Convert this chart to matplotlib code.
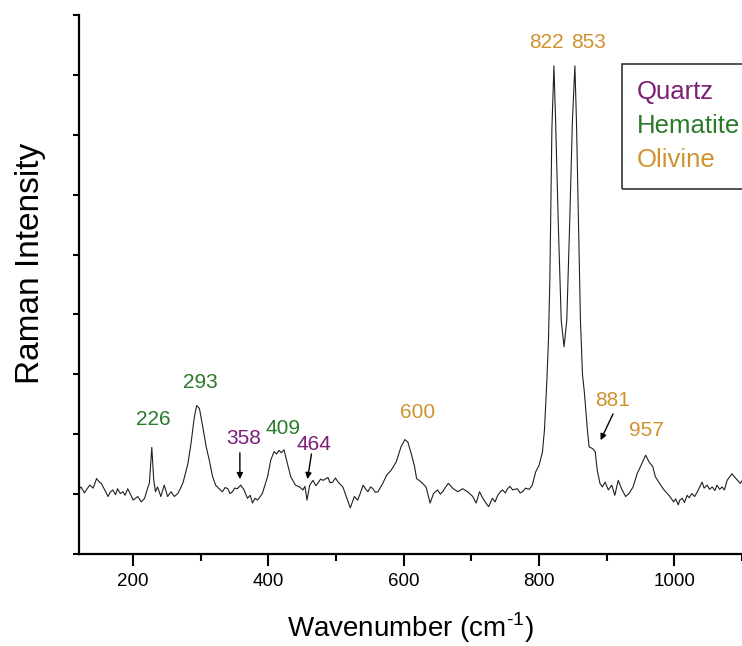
import matplotlib
matplotlib.use("Agg")
import matplotlib.pyplot as plt
from matplotlib.patches import Rectangle

# ---------------- data ----------------
wavenumber = [120, 123, 128, 132, 136, 141, 146, 150, 153, 158, 163, 166, 170, 174, 177,
              181, 185, 188, 192, 196,
              200, 207, 212, 217, 222, 224, 227.6, 230.5, 233, 236, 241, 246, 251,
              256, 261, 266, 271, 274, 281, 285.5, 290.5, 294, 298, 303, 308, 312.5,
              317.5, 322, 327, 332, 336, 340, 343, 347, 350, 354, 359, 364, 369, 373,
              376.5, 380, 384, 391,
              398.7, 403.5, 408.4, 412, 415.8, 419, 423, 426.7, 433, 440, 446, 451, 454,
              457, 461, 466, 470, 473, 477, 481, 488, 491, 495, 499, 503, 510, 515, 521,
              527, 532, 536, 540, 544, 547, 551, 554.5, 558,
              562, 569, 575, 581.5, 589, 596, 601.6, 606, 611, 616, 619, 626, 633,
              639, 644, 650, 654, 657.6, 662, 666, 673, 680, 687, 694.5, 702, 707, 712,
              717, 721, 725.5, 731, 735, 739, 743, 746, 750, 753.5, 757, 761, 768, 772,
              775.7, 780, 785.5, 790, 795, 800,
              805, 808, 811.6, 814, 816, 819, 822, 824.5, 828.3, 832.8, 837, 841,
              845.4, 849.3, 853, 855.3, 858.2, 861.2, 864.2, 867, 871.5, 874, 879,
              883, 886, 890, 893.6, 897.6, 902.5, 907.5, 912, 917, 922, 928, 933,
              939, 945, 952, 957.6, 962.5, 968, 972, 978, 984.7, 992, 999, 1002, 1005.8,
              1008, 1011.7, 1015, 1019, 1022, 1026, 1030, 1034, 1041, 1044, 1048.5, 1052,
              1056, 1060, 1063, 1067, 1070.6, 1074, 1078,
              1085, 1091, 1097.6, 1100]
intensity = [1.08, 1.12, 1.02, 1.09, 1.15, 1.10, 1.26, 1.20, 1.18, 1.07, 0.96, 1.03,
             1.07, 0.99, 1.09, 1.01, 1.04, 0.98, 1.09, 1.00,
             0.90, 0.96, 0.87, 0.93, 1.12, 1.18, 1.78, 1.23, 1.04, 1.12,
             0.96, 1.15, 0.96, 1.04, 0.96, 1.01, 1.12, 1.20, 1.51, 1.84, 2.29, 2.48,
             2.43, 2.12, 1.79, 1.57, 1.29, 1.15, 1.09, 1.04, 1.11, 1.09, 1.01, 1.04,
             1.10, 1.09, 1.15, 1.07, 0.93, 0.98, 0.85, 0.93, 0.90, 1.01,
             1.29, 1.57, 1.71, 1.67, 1.73, 1.69, 1.74, 1.57, 1.29,
             1.15, 1.12, 1.07, 1.13, 0.90, 1.15, 1.23, 1.14, 1.18, 1.25, 1.23, 1.28,
             1.19, 1.20, 1.27, 1.20, 1.12, 0.96, 0.77, 0.96, 0.90, 1.02, 1.15, 1.08,
             1.04, 1.12, 1.09, 1.03,
             1.04, 1.18, 1.32, 1.40, 1.54, 1.79, 1.91, 1.87, 1.68, 1.46, 1.26, 1.20,
             1.12, 0.85, 1.01, 1.07, 1.00, 1.04, 1.12, 1.18, 1.09, 1.04, 1.09, 1.04,
             0.96, 0.85, 1.04, 0.93, 0.86, 0.79, 0.93, 0.87, 0.98, 1.04, 1.07, 1.02,
             1.09, 1.13, 1.07, 1.09, 1.02, 1.04, 1.10, 1.08, 1.15, 1.37, 1.48,
             1.70, 2.07, 2.90, 3.60, 4.60, 7.10, 8.15, 7.23, 5.57, 3.90, 3.46, 3.90,
             5.57, 7.23, 8.15, 7.23, 5.57, 3.90, 3.00, 2.70, 2.07, 1.79, 1.76, 1.71,
             1.40, 1.18, 1.12, 1.20, 1.07, 1.15, 0.98, 1.23, 1.09, 0.96, 1.01, 1.12,
             1.34, 1.51, 1.65, 1.54, 1.46, 1.29, 1.18, 1.07, 0.98, 0.87, 0.92, 0.82,
             0.90, 0.93, 0.86, 0.98, 0.94, 1.01, 0.96, 1.04, 1.20, 1.10, 1.15, 1.08,
             1.12, 1.06, 1.15, 1.08, 1.12, 1.07, 1.23, 1.34, 1.26, 1.18, 1.22]

peak_labels = ["226", "293", "358", "409", "464", "600", "822", "853", "881", "957"]
peak_mineral = ["Hematite", "Hematite", "Quartz", "Hematite", "Quartz",
                "Olivine", "Olivine", "Olivine", "Olivine", "Olivine"]
minerals = ["Quartz", "Hematite", "Olivine"]

x_major = [200, 400, 600, 800, 1000]
x_minor = [300, 500, 700, 900, 1100]
y_ticks = [0, 1, 2, 3, 4, 5, 6, 7, 8, 9]

# ---------------- style / layout ----------------
colors = {"Quartz": "#7b1f78", "Hematite": "#2a7a2a", "Olivine": "#d0922e"}
label_pos = {"226": (229.5, 2.25), "293": (300, 2.87), "358": (363.7, 1.93),
             "409": (420.8, 2.10), "464": (467, 1.83), "600": (620, 2.37),
             "822": (811, 8.54), "853": (873, 8.54), "881": (908, 2.57),
             "957": (959, 2.07)}
arrows = {"358": ((357.8, 1.69), (357.8, 1.25)),
          "464": ((463.6, 1.67), (457.7, 1.25)),
          "881": ((909.4, 2.34), (891.0, 1.90))}

plt.rcParams["font.family"] = ["Liberation Sans", "DejaVu Sans"]
plt.rcParams["mathtext.fontset"] = "custom"
plt.rcParams["mathtext.rm"] = "Liberation Sans"

fig = plt.figure(figsize=(7.42, 6.46), dpi=100)
ax = fig.add_axes([79 / 742, (646 - 554) / 646, 1 - 79 / 742, (554 - 15) / 646])

ax.plot(wavenumber, intensity, color="#202020", lw=0.8)

ax.set_xlim(120, 1099.5)
ax.set_ylim(0, 9)

for s in ["top", "right"]:
    ax.spines[s].set_visible(False)
for s in ["left", "bottom"]:
    ax.spines[s].set_linewidth(1.6)

ax.set_xticks(x_major)
ax.set_xticks(x_minor, minor=True)
ax.set_yticks(y_ticks)
ax.set_yticklabels([])
ax.tick_params(axis="x", which="major", length=8.5, width=1.5, labelsize=13.5, pad=5)
ax.tick_params(axis="x", which="minor", length=5, width=1.5)
ax.tick_params(axis="y", which="major", length=4.5, width=1.5)

ax.set_xlabel("Wavenumber (cm$^{\\mathrm{\\text{-}1}}$)", fontsize=20)
ax.xaxis.set_label_coords(0.5, -0.105)
ax.set_ylabel("Raman Intensity", fontsize=24)
ax.yaxis.set_label_coords(-0.05, 0.54)

for lab, mineral in zip(peak_labels, peak_mineral):
    x, y = label_pos[lab]
    ax.text(x, y, lab, color=colors[mineral], fontsize=15, ha="center", va="center")
    if lab in arrows:
        (x0, y0), (x1, y1) = arrows[lab]
        ax.annotate("", xy=(x1, y1), xytext=(x0, y0),
                    arrowprops=dict(arrowstyle="-|>", color="black", lw=1.0,
                                    mutation_scale=9, shrinkA=0, shrinkB=0))

# legend-like box
ax.add_patch(Rectangle((0.8186, 0.6772), 0.3, 0.9085 - 0.6772, transform=ax.transAxes,
                       fill=False, edgecolor="#333333", lw=1.2, clip_on=False))
for name, yy in zip(minerals, [0.8577, 0.7941, 0.7310]):
    ax.text(0.8412, yy, name, color=colors[name], fontsize=18.5, ha="left", va="center",
            transform=ax.transAxes)

fig.savefig("out.png", dpi=100)
